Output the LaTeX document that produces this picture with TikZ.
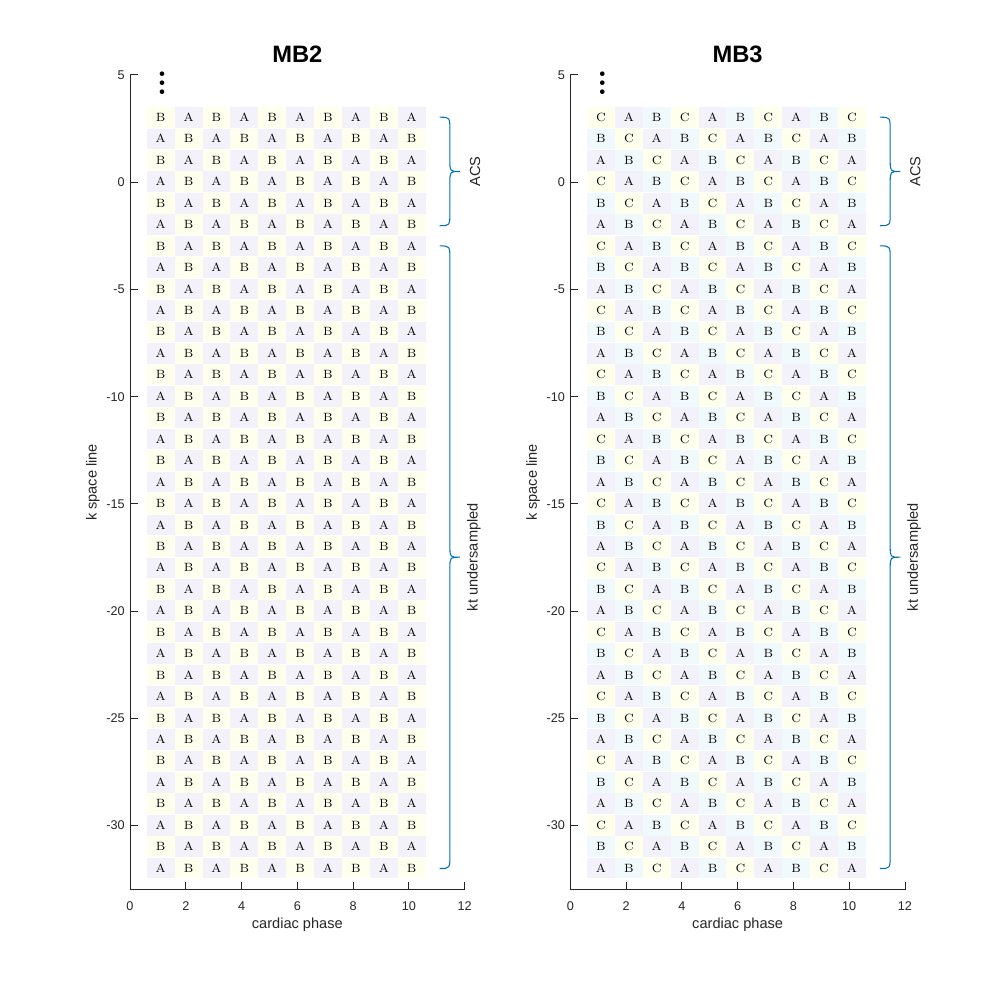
\documentclass[tikz,border=0pt]{standalone}
\usepackage{fontspec}
\newfontfamily\arialf{Liberation Sans}
\definecolor{axgray}{RGB}{38,38,38}
\definecolor{cA}{RGB}{243,242,250}
\definecolor{cBtwo}{RGB}{255,255,238}
\definecolor{cBthree}{RGB}{240,249,251}
\definecolor{cC}{RGB}{255,255,238}
\definecolor{mblue}{RGB}{0,114,189}
\tikzset{
  cellbox/.style={minimum width=0.5578cm, minimum height=0.412cm, inner sep=0pt,
    text height=4.65pt, text depth=0pt, font=\fontsize{6.8}{8}\selectfont, text=black},
  axline/.style={draw=axgray, line width=0.55pt},
  ticklab/.style={inner sep=0pt, text=axgray, font=\arialf\fontsize{7.2}{8.6}\selectfont},
  axlab/.style={inner sep=0pt, text=axgray, font=\arialf\fontsize{8.3}{10}\selectfont},
  titlef/.style={inner sep=0pt, text=black, font=\arialf\bfseries\fontsize{13.5}{16}\selectfont},
  dotsf/.style={inner sep=0pt, anchor=south, scale=1.3, font=\bfseries\fontsize{14}{16}\selectfont},
  bracel/.style={draw=mblue, line width=0.6pt},
}
\newcommand\kbrace[2]{%
  \pgfmathsetmacro\bm{(#1+#2)/2}%
  \draw[bracel] (11.1,#1) .. controls (11.47,#1) .. (11.47,#1-0.65) -- (11.47,\bm+0.5)
    .. controls (11.47,\bm) .. (11.83,\bm) .. controls (11.47,\bm) .. (11.47,\bm-0.5)
    -- (11.47,#2+0.65) .. controls (11.47,#2) .. (11.1,#2);}
\begin{document}
\begin{tikzpicture}
\useasboundingbox (0,0) rectangle (20,20);
\fill[white] (0,0) rectangle (20,20);
\foreach \pre/\ox/\ttl/\nl in {L/2.6/MB2/2, R/11.406/MB3/3} {
\begin{scope}[shift={(\ox cm,16.356cm)}, x=0.5578cm, y=0.42895cm]
  % cells
  \foreach \k in {3,2,...,-32} {
    \foreach \j in {1,...,10} {
      \ifnum\nl=2
        \pgfmathtruncatemacro\idx{mod(\j+\k+101,2)}
      \else
        \pgfmathtruncatemacro\idx{mod(\j+\k+301,3)}
      \fi
      \ifcase\idx
        \def\lt{A}\def\fc{cA}
      \or
        \def\lt{B}\ifnum\nl=2 \def\fc{cBtwo}\else \def\fc{cBthree}\fi
      \or
        \def\lt{C}\def\fc{cC}
      \fi
      \node[cellbox, fill=\fc] (\pre c\j r\k) at (\j+0.1,\k+0.02) {\lt};
    }
  }
  % axes
  \draw[axline] (0,5) -- (0,-33) -- (12,-33);
  \foreach \y in {5,0,-5,...,-30} {
    \draw[axline] (0,\y) -- ++(0.16cm,0);
    \node[ticklab, anchor=east] (\pre y\y) at (-0.18,\y) {\y};
  }
  \foreach \x in {0,2,...,12} {
    \draw[axline] (\x,-33) -- ++(0,0.16cm);
    \node[ticklab] (\pre x\x) at (\x,-33.75) {\x};
  }
  \node[axlab] (\pre xl) at (6,-34.62) {cardiac phase};
  \node[axlab, rotate=90] (\pre yl) at (-1.33,-14) {k space line};
  \node[titlef] (\pre t) at (6,5.98) {\ttl};
  \node[dotsf] (\pre d) at (1.15,4.05) {$\vdots$};
  % braces
  \kbrace{3.03}{-2.03}
  \kbrace{-2.97}{-32.0}
  \node[axlab, rotate=90] (\pre acs) at (12.37,0.5) {ACS};
  \node[axlab, rotate=90] (\pre kt) at (12.33,-17.48) {kt undersampled};
\end{scope}
}
\end{tikzpicture}
\end{document}
